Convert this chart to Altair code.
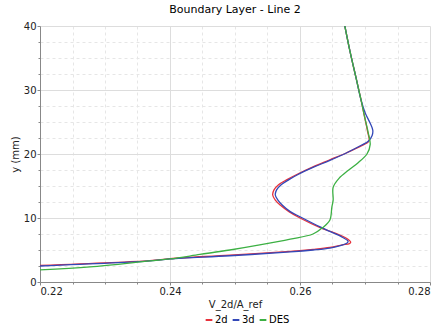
import altair as alt
import pandas as pd

# series values (x = V_2d/A_ref, y in mm)
x_2d = [0.2200, 0.2369, 0.2400, 0.2492, 0.2585, 0.2620, 0.2646, 0.2665, 0.2676, 0.2678,
        0.2672, 0.2650, 0.2631, 0.2600, 0.2583, 0.2570, 0.2562, 0.2558, 0.2560, 0.2567,
        0.2580, 0.2595, 0.2620, 0.2646, 0.2672, 0.2695, 0.2706, 0.2704, 0.2700, 0.2694,
        0.2686, 0.2677, 0.2669]
y_2d = [2.6, 3.35, 3.65, 4.2, 4.8, 5.1, 5.4, 5.8, 6.0, 6.2,
        6.8, 7.8, 8.5, 10.0, 11.0, 12.0, 12.8, 13.6, 14.4, 15.2,
        16.0, 16.8, 18.0, 19.1, 20.2, 21.3, 22.0, 23.5, 25.5, 28.4,
        32.0, 36.0, 40.0]

x_3d = [0.2200, 0.2369, 0.2400, 0.2492, 0.2585, 0.2620, 0.2646, 0.2662, 0.2672, 0.2674,
        0.2665, 0.2646, 0.2631, 0.2600, 0.2585, 0.2573, 0.2566, 0.2562, 0.2564, 0.2571,
        0.2583, 0.2597, 0.2620, 0.2646, 0.2672, 0.2695, 0.2705, 0.2711, 0.2712, 0.2708,
        0.2700, 0.2694, 0.2686, 0.2677, 0.2669]
y_3d = [2.5, 3.3, 3.6, 4.1, 4.7, 5.0, 5.3, 5.7, 6.05, 6.35,
        7.0, 7.9, 8.6, 10.2, 11.0, 12.0, 12.8, 13.6, 14.4, 15.2,
        16.0, 16.8, 17.9, 19.0, 20.2, 21.4, 22.0, 22.9, 23.7, 24.8,
        26.5, 28.4, 32.0, 36.0, 40.0]

x_des = [0.2200, 0.2277, 0.2369, 0.2400, 0.2446, 0.2492, 0.2538, 0.2585, 0.2620,
         0.2635, 0.2646, 0.2649, 0.2651, 0.2651, 0.2660, 0.2675, 0.2689, 0.2703,
         0.2708, 0.2705, 0.2699, 0.2694, 0.2686, 0.2677, 0.2669]
y_des = [1.9, 2.35, 3.3, 3.6, 4.3, 5.0, 5.8, 6.7, 7.5,
         8.5, 9.7, 11.7, 12.8, 14.8, 16.2, 17.5, 18.6, 20.0,
         21.5, 23.3, 26.0, 28.4, 32.0, 36.0, 40.0]

series = ["2d", "3d", "DES"]
colors = ["#e8323c", "#3348b8", "#3cb043"]

x_ticks = [round(0.22 + 0.005 * i, 3) for i in range(13)]
y_ticks = [2.5 * i for i in range(17)]

rows = []
for name, xs, ys in [("2d", x_2d, y_2d), ("3d", x_3d, y_3d), ("DES", x_des, y_des)]:
    for i, (a, b) in enumerate(zip(xs, ys)):
        rows.append({"series": name, "x": a, "y": b, "i": i})
df = pd.DataFrame(rows)

major_x = "abs(datum.value*50 - round(datum.value*50)) < 1e-6"
major_y = "datum.value % 10 === 0"

chart = alt.Chart(df).mark_line(
    interpolate="catmull-rom", strokeWidth=1.3, clip=True
).encode(
    x=alt.X("x:Q", title="V_2d/A_ref",
            scale=alt.Scale(domain=[0.22, 0.28], nice=False, zero=False),
            axis=alt.Axis(values=x_ticks,
                          labelExpr=f"{major_x} ? format(datum.value, '.2f') : ''",
                          gridDash=alt.condition(major_x, alt.value([]), alt.value([3, 3])),
                          gridColor=alt.condition(major_x, alt.value("#dddddd"), alt.value("#e6e6e6")),
                          tickSize=alt.condition(major_x, alt.value(3), alt.value(2)))),
    y=alt.Y("y:Q", title="y (mm)",
            scale=alt.Scale(domain=[0, 40], nice=False),
            axis=alt.Axis(values=y_ticks,
                          labelExpr=f"{major_y} ? format(datum.value, 'd') : ''",
                          gridDash=alt.condition(major_y, alt.value([]), alt.value([3, 3])),
                          gridColor=alt.condition(major_y, alt.value("#dddddd"), alt.value("#e6e6e6")),
                          tickSize=alt.condition(major_y, alt.value(3), alt.value(2)))),
    color=alt.Color("series:N", scale=alt.Scale(domain=series, range=colors),
                    legend=alt.Legend(title=None, orient="none", direction="horizontal",
                                      legendX=164, legendY=289,
                                      symbolType="stroke", symbolSize=45, symbolStrokeWidth=2,
                                      columnPadding=0, labelOffset=1,
                                      labelFontSize=10, labelFont="DejaVu Sans")),
    order="i:Q",
).properties(
    width=390, height=256,
    title=alt.TitleParams("Boundary Layer - Line 2", fontSize=11, font="DejaVu Sans",
                          fontWeight="normal", offset=6),
    padding={"left": 40, "top": 26, "right": 8, "bottom": 45},
    autosize=alt.AutoSizeParams(type="none"),
).configure_axis(
    labelFont="DejaVu Sans", titleFont="DejaVu Sans", labelFontSize=10, titleFontSize=10,
    titleFontWeight="normal", domainColor="#888888", tickColor="#888888",
    labelColor="#222222", titleColor="#222222", labelPadding=1,
).configure_axisX(titlePadding=3).configure_axisY(titlePadding=3).configure_view(stroke=None)

chart.save("out.html", embed_options={"renderer": "svg", "actions": False})
